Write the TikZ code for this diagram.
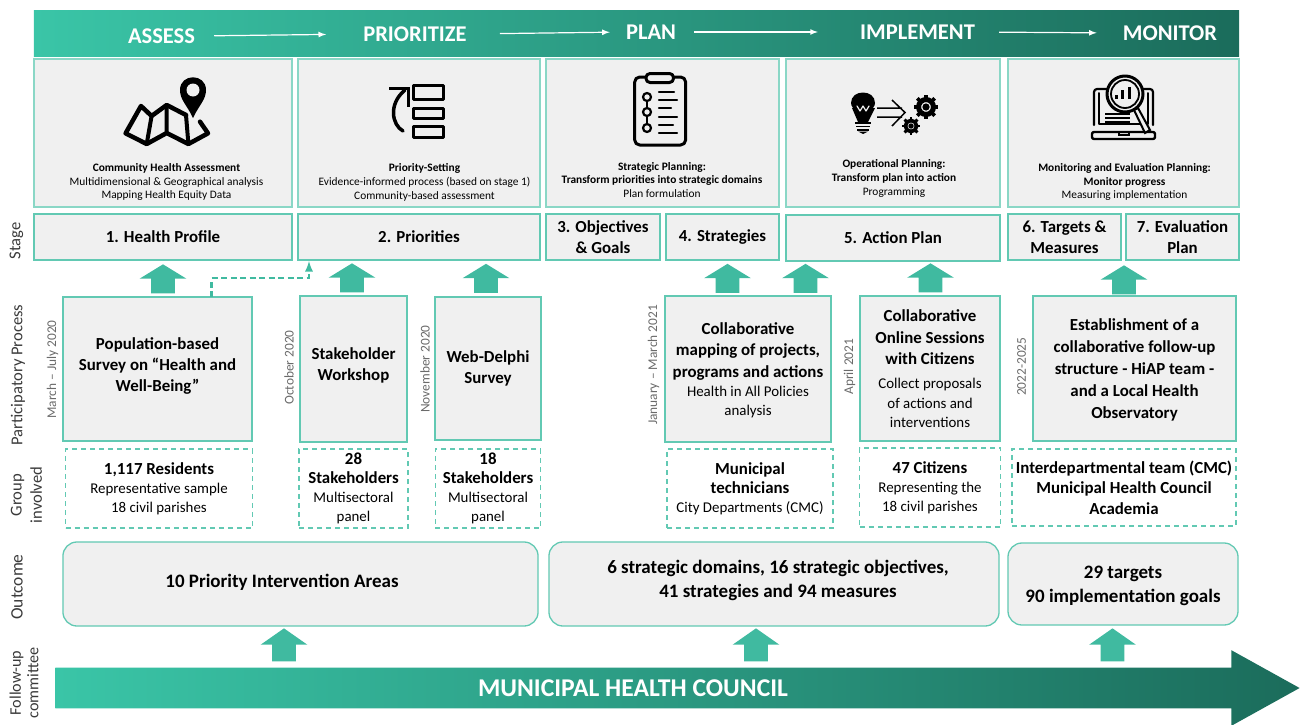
\documentclass[tikz,border=0pt]{standalone}
\usepackage{fontspec}
\setmainfont{Carlito}
\usetikzlibrary{arrows.meta}
\usetikzlibrary{shapes.arrows}

\definecolor{tealline}{HTML}{62C9B3}
\definecolor{tealpale}{HTML}{8AD7C6}
\definecolor{tealfill}{HTML}{40BAA0}
\definecolor{tealleft}{HTML}{3AC5A7}
\definecolor{tealmid}{HTML}{2CA78F}
\definecolor{tealright}{HTML}{1B6C5B}
\definecolor{panelgray}{HTML}{F0F0F0}
\definecolor{sidegray}{HTML}{3A3A3A}
\definecolor{dategray}{HTML}{6A6A6A}

\def\px{0.7113pt}
\newcommand{\sz}[2]{\fontsize{#1}{#2}\selectfont}
\newcommand{\reg}[1]{{\mdseries\sz{10.6}{13}#1}}
\newcommand{\bld}[1]{{\sz{12}{13.6}\bfseries #1}}

\tikzset{
    wh/.style 2 args={minimum width=#1*\px,minimum height=#2*\px},
    greybox/.style={draw=tealline,fill=panelgray,line width=1.3*\px,inner sep=0pt,align=center},
    panelbox/.style={greybox,draw=tealpale,line width=1.1*\px},
    stagebox/.style={greybox,font=\sz{12}{14.6}\bfseries},
    procbox/.style={greybox,line width=1.5*\px,font=\sz{12}{15}\bfseries},
    groupbox/.style={draw=tealline,dashed,line width=1.2*\px,dash pattern=on 5*\px off 4*\px,inner sep=0pt,align=center,font=\sz{10.6}{13.6}},
    outbox/.style={greybox,rounded corners=14*\px,font=\sz{13.5}{17}\bfseries},
    paneltext/.style={align=center,inner sep=0pt,font=\sz{8.1}{9.9}},
    headtext/.style={text=white,inner sep=0pt,font=\sz{16}{18}\bfseries},
    sidelabel/.style={rotate=90,align=center,text=sidegray,inner sep=0pt,font=\sz{11.8}{14.4}},
    datelabel/.style={rotate=90,text=dategray,inner sep=0pt,font=\sz{9.5}{11}},
    blockup/.style={single arrow,rotate=90,anchor=tip,fill=tealfill,inner sep=0pt,text height=23*\px,text depth=0pt,
        minimum height=29*\px,single arrow head extend=11.5*\px,single arrow tip angle=117},
    blockdown/.style={blockup,minimum height=33*\px,single arrow tip angle=110},
    headarrow/.style={draw=white,line width=1.2*\px,-{latex[length=4pt,width=4pt]}},
    icon/.style={line width=3*\px,line cap=round,line join=round},
}

% small gear of the planning icon
\newcommand{\gearmark}[3]{
    \draw[line width=#3*0.42*\px] (#1,#2) circle[radius=#3*0.62];
    \fill (#1,#2) circle[radius=#3*0.3];
    \foreach \a in {0,45,...,315}
        \draw[line width=#3*0.32*\px] (#1,#2) ++(\a:#3*0.72) -- ++(\a:#3*0.3);
}

\begin{document}
\begin{tikzpicture}[x=0.025cm,y=-0.025cm]

    \useasboundingbox (0,0) rectangle (1301,724);

    %%%%%%%%%%%%%%%%%%%%%%%%%%%%%%%%%%%%%%%%%%%%%%%%%%%%%%

    % header band
    \node[wh={1205}{45},inner sep=0pt,left color=tealleft,middle color=tealmid,right color=tealright] (band) at (636.5,33.5) {};
    \node[headtext] (assess) at (161.5,36) {ASSESS};
    \node[headtext] (prioritize) at (415,34) {PRIORITIZE};
    \node[headtext] (plan) at (651,32) {PLAN};
    \node[headtext] (implement) at (917.5,32) {IMPLEMENT};
    \node[headtext] (monitor) at (1170,33) {MONITOR};
    \draw[headarrow,shorten <=19*\px,shorten >=37*\px] (assess.east) to (prioritize.west);
    \draw[headarrow,shorten <=33*\px,shorten >=16*\px] (prioritize.east) to (plan.west);
    \draw[headarrow,shorten <=18*\px,shorten >=42*\px] (plan.east) to (implement.west);
    \draw[headarrow,shorten <=24*\px,shorten >=26*\px] (implement.east) to (monitor.west);

    %%%%%%%%%%%%%%%%%%%%%%%%%%%%%%%%%%%%%%%%%%%%%%%%%%%%%%

    % panels under the band
    \node[panelbox,wh={258}{148}] (panelA) at (163,133) {};
    \node[panelbox,wh={242}{148}] (panelB) at (419,133) {};
    \node[panelbox,wh={233}{148}] (panelC) at (662.5,133) {};
    \node[panelbox,wh={214}{148}] (panelD) at (893,133) {};
    \node[panelbox,wh={231}{148}] (panelE) at (1123.5,133) {};

    \node[paneltext] (panelAtxt) at (166.5,182) {\textbf{Community Health Assessment}\\Multidimensional \& Geographical analysis\\Mapping Health Equity Data};
    \node[paneltext] (panelBtxt) at (424.5,182) {\textbf{Priority-Setting}\\Evidence-informed process (based on stage 1)\\Community-based assessment};
    \node[paneltext] (panelCtxt) at (662,180) {\textbf{Strategic Planning:}\\\textbf{Transform priorities into strategic domains}\\Plan formulation};
    \node[paneltext] (panelDtxt) at (894,178.5) {\textbf{Operational Planning:}\\\textbf{Transform plan into action}\\Programming};
    \node[paneltext] (panelEtxt) at (1124.5,182) {\textbf{Monitoring and Evaluation Planning:}\\\textbf{Monitor progress}\\Measuring implementation};

    %%%%%%%%%%%%%%%%%%%%%%%%%%%%%%%%%%%%%%%%%%%%%%%%%%%%%%

    % map icon
    \draw[icon,line width=4.5*\px] (186,115)--(166.7,105)--(151.6,116)--(141,106)--(125.6,133.3)--(146.7,144)--(166.7,133)--(188.4,144)--(208,133.3)--(200,121.7);
    \draw[icon,line width=4*\px] (151.6,116)--(146.7,144) (166.7,105)--(166.7,133) (186,115)--(188.4,144);
    \fill (193,118) .. controls (187,105) and (180,100) .. (180,90) .. controls (180,73) and (206,73) .. (206,90) .. controls (206,100) and (199,105) .. (193,118);
    \fill[panelgray] (193,90) circle[radius=6.5];

    % priority icon
    \draw[icon,line cap=butt] (413.5,85.5) rectangle (443,99.5);
    \draw[icon,line cap=butt] (413.5,108) rectangle (443,118.5);
    \draw[icon,line cap=butt] (413.5,126) rectangle (443,137);
    \draw[icon,line width=3.5*\px] (403,131) .. controls (392,125) and (388,104) .. (405,90);
    \draw[icon,line cap=butt,line join=miter] (389,88.5)--(408.5,88.5)--(408.5,107);

    % clipboard icon
    \draw[icon,rounded corners=5*\px] (634.7,77) rectangle (685.6,145);
    \draw[icon,rounded corners=4*\px,fill=panelgray] (646,73.5) rectangle (673.5,82.5);
    \draw[icon,line width=2*\px] (647,101)--(647,108) (647,116)--(647,124);
    \foreach \y in {97,112,128}
        \draw[icon,line width=2.2*\px] (647,\y) circle[radius=4];
    \foreach \y/\e in {92/674,100/677,108/671,117/677,125/673,133/677}
        \draw[icon,line width=2.4*\px] (659,\y)--(\e,\y);

    % bulb and gears icon
    \fill (863,122) .. controls (862,112) and (851,110) .. (851,103) .. controls (851,89) and (875,89) .. (875,103) .. controls (875,110) and (864,112) .. (863,122);
    \fill (852,108) -- (875,108) -- (868,122) -- (858,122) -- cycle;
    \draw[icon,panelgray,line width=1.2*\px] (857,106)--(860,111)--(863,106)--(866,111)--(869,106);
    \draw[line width=1.6*\px] (855,123)--(871,123) (856,126.5)--(870,126.5) (857,130)--(869,130);
    \fill (858,131.5)--(868,131.5)--(863,134)--cycle;
    \draw[line width=1.5*\px] (877,108)--(902,108) (877,117)--(902,117) (892,100)--(905,112.5)--(892,126);
    \gearmark{926}{107}{12}
    \gearmark{911}{126}{9}

    % laptop and magnifier icon
    \draw[icon,line width=2.2*\px,rounded corners=3*\px] (1094,125)--(1094,89)--(1153,89)--(1153,125);
    \draw[icon,line width=2*\px] (1099,93)--(1099,124)--(1148,124)--(1148,93);
    \draw[icon,line width=2.4*\px,rounded corners=2*\px] (1092,132)--(1155,132)--(1155,139)--(1092,139)--cycle;
    \draw[line width=1.6*\px] (1119,132)--(1119,135)--(1129,135)--(1129,132);
    \foreach \y in {114,118,122}
        \draw[line width=1.3*\px] (1105,\y)--(1130,\y);
    \draw[icon,fill=panelgray] (1125,94) circle[radius=18];
    \draw[line width=1.8*\px,fill=panelgray] (1125,94) circle[radius=14];
    \draw[line width=3*\px] (1116,99)--(1116,95) (1122,99)--(1122,90) (1129,99)--(1129,87);
    \draw[line width=2*\px,fill=panelgray] (1134,110)--(1138,108)--(1150,130)--(1145,133)--cycle;

    %%%%%%%%%%%%%%%%%%%%%%%%%%%%%%%%%%%%%%%%%%%%%%%%%%%%%%

    % stage row
    \node[sidelabel] (stagelbl) at (16.5,241) {Stage};
    \node[stagebox,wh={258}{46}] (profile) at (163,237) {1. Health Profile};
    \node[stagebox,wh={242}{46}] (priorities) at (419,237) {2. Priorities};
    \node[stagebox,wh={114}{46}] (objectives) at (603,237) {3. Objectives\\\& Goals};
    \node[stagebox,wh={113}{46}] (strategies) at (722.5,237) {4. Strategies};
    \node[stagebox,wh={214}{46}] (actionplan) at (893,238) {5. Action Plan};
    \node[stagebox,wh={113}{46}] (targets) at (1064.5,237) {6. Targets \&\\Measures};
    \node[stagebox,wh={113}{46}] (evalplan) at (1182.5,237) {7. Evaluation\\Plan};

    %%%%%%%%%%%%%%%%%%%%%%%%%%%%%%%%%%%%%%%%%%%%%%%%%%%%%%

    % participatory process row
    \node[sidelabel] (processlbl) at (18,375) {Participatory Process};
    \node[procbox,wh={189}{144},text depth=6pt] (survey) at (157.5,369) {Population-based\\Survey on “Health and\\Well-Being”};
    \node[procbox,wh={107}{146},text depth=6.5pt] (workshop) at (353.5,369) {Stakeholder\\Workshop};
    \node[procbox,wh={105.5}{143}] (delphi) at (488,368.5) {Web-Delphi\\Survey};
    \node[procbox,wh={165.5}{146},text depth=-3pt] (mapping) at (748,369) {Collaborative\\mapping of projects,\\programs and actions\\[-1.5pt]\reg{Health in All Policies}\\[-1.5pt]\reg{analysis}};
    \node[procbox,wh={140}{145},font=\sz{12}{15.6}\bfseries,text depth=-2pt] (sessions) at (930,368.5) {Collaborative\\Online Sessions\\with Citizens\\[1.5pt]\reg{Collect proposals}\\[-1.8pt]\reg{of actions and}\\[-1.8pt]\reg{interventions}};
    \node[procbox,wh={203}{145},font=\sz{12}{15.6}\bfseries,text depth=-4pt] (followup) at (1134.5,368.5) {Establishment of a\\collaborative follow-up\\structure - HiAP team -\\and a Local Health\\Observatory};

    % dates
    \node[datelabel] (dateA) at (52.6,369.5) {March – July 2020};
    \node[datelabel] (dateB) at (289,367.5) {October 2020};
    \node[datelabel] (dateC) at (425,369) {November 2020};
    \node[datelabel] (dateD) at (653.5,365) {January – March 2021};
    \node[datelabel] (dateE) at (849.5,366.7) {April 2021};
    \node[datelabel] (dateF) at (1021.5,366.7) {2022-2025};

    % arrows up to the stages
    \node[blockup] (upA) at (163,264) {};
    \node[blockup] (upB) at (352,263) {};
    \node[blockup] (upC) at (486,263.5) {};
    \node[blockup] (upD) at (727.5,263.5) {};
    \node[blockup] (upE) at (805.5,263.5) {};
    \node[blockup] (upF) at (930.5,263) {};
    \node[blockup] (upG) at (1124,265) {};

    % survey also feeds the priorities
    \coordinate (dashfrom) at (211.5,297);
    \coordinate (dashto) at (309,261);
    \draw[draw=tealfill,line width=2.2*\px,dash pattern=on 6*\px off 3.5*\px,-{latex}] (dashfrom) -- ++(0,-19) -| (dashto);

    %%%%%%%%%%%%%%%%%%%%%%%%%%%%%%%%%%%%%%%%%%%%%%%%%%%%%%

    % group involved row
    \node[sidelabel] (grouplbl) at (26.5,495) {Group\\involved};
    \node[groupbox,wh={186.5}{79}] (residents) at (159,488.5) {\bld{1,117 Residents}\\Representative sample\\18 civil parishes};
    \node[groupbox,wh={109}{79}] (stakeA) at (353.5,488.5) {\bld{28}\\\bld{Stakeholders}\\Multisectoral\\panel};
    \node[groupbox,wh={105.5}{79}] (stakeB) at (488,488.5) {\bld{18}\\\bld{Stakeholders}\\Multisectoral\\panel};
    \node[groupbox,wh={166}{79}] (technicians) at (750,488.5) {\bld{Municipal}\\\bld{technicians}\\City Departments (CMC)};
    \node[groupbox,wh={140.5}{79}] (citizens) at (930,487.5) {\bld{47 Citizens}\\Representing the\\18 civil parishes};
    \node[groupbox,wh={224}{77},font=\sz{12}{14.6}\bfseries] (academia) at (1124,487.5) {Interdepartmental team (CMC)\\Municipal Health Council\\Academia};

    %%%%%%%%%%%%%%%%%%%%%%%%%%%%%%%%%%%%%%%%%%%%%%%%%%%%%%

    % outcome row
    \node[sidelabel,font=\sz{12.4}{15}] (outcomelbl) at (17,587) {Outcome};
    \node[outbox,wh={475}{84}] (outA) at (300.5,584) {};
    \node[inner sep=0pt,font=\sz{13.5}{17}\bfseries] (outAtxt) at (282,582) {10 Priority Intervention Areas};
    \node[outbox,wh={450}{84}] (outB) at (774,584) {};
    \node[inner sep=0pt,align=center,font=\sz{13.5}{17}\bfseries] (outBtxt) at (778,580) {6 strategic domains, 16 strategic objectives,\\41 strategies and 94 measures};
    \node[outbox,wh={230}{82},text depth=0pt] (outC) at (1123,584) {29 targets\\90 implementation goals};

    %%%%%%%%%%%%%%%%%%%%%%%%%%%%%%%%%%%%%%%%%%%%%%%%%%%%%%

    % follow-up committee
    \node[sidelabel,font=\sz{11.5}{12.5}] (committeelbl) at (24,683) {Follow-up\\committee};
    \node[single arrow,anchor=tail,inner sep=0pt,left color=tealleft,middle color=tealmid,right color=tealright,text height=40*\px,text depth=0pt,
        minimum height=1244*\px,single arrow head extend=17.5*\px,single arrow tip angle=58] (council) at (55,688) {};
    \node[headtext,font=\sz{18.2}{20}\bfseries] (counciltxt) at (633,688) {MUNICIPAL HEALTH COUNCIL};

    % arrows up to the outcomes
    \node[blockdown] (outupA) at (284,628) {};
    \node[blockdown] (outupB) at (756,628) {};
    \node[blockdown] (outupC) at (1112.5,628) {};

\end{tikzpicture}
\end{document}
